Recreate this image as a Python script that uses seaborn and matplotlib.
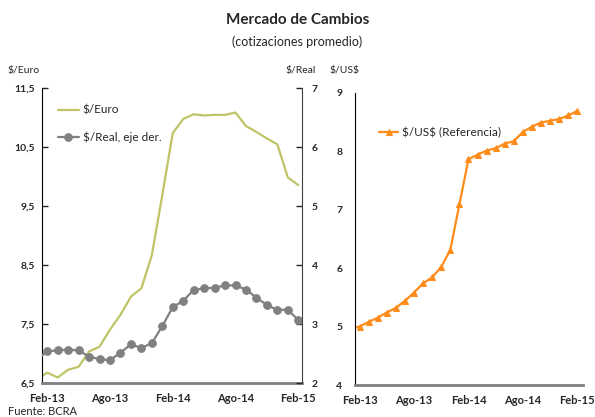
import numpy as np
import pandas as pd
import seaborn as sns
import matplotlib.pyplot as plt
from matplotlib.ticker import FixedLocator, FuncFormatter

sns.set_style("white")
plt.rcParams['font.family'] = ['Lato', 'DejaVu Sans']
plt.rcParams['text.parse_math'] = False  # keep the $ signs literal

# monthly averages, Jan-13 (partly clipped) to Feb-15
months = ["Ene-13", "Feb-13", "Mar-13", "Abr-13", "May-13", "Jun-13", "Jul-13", "Ago-13",
          "Sep-13", "Oct-13", "Nov-13", "Dic-13", "Ene-14", "Feb-14", "Mar-14", "Abr-14",
          "May-14", "Jun-14", "Jul-14", "Ago-14", "Sep-14", "Oct-14", "Nov-14", "Dic-14",
          "Ene-15", "Feb-15"]
euro = [6.56, 6.68, 6.60, 6.73, 6.78, 7.04, 7.12, 7.41, 7.66, 7.97, 8.11, 8.67, 9.69,
        10.74, 10.98, 11.06, 11.04, 11.05, 11.05, 11.09, 10.86, 10.76, 10.65, 10.55, 9.99, 9.86]
real = [2.40, 2.54, 2.56, 2.57, 2.56, 2.45, 2.41, 2.39, 2.52, 2.66, 2.60, 2.68, 2.97,
        3.29, 3.40, 3.58, 3.61, 3.62, 3.66, 3.66, 3.59, 3.45, 3.33, 3.24, 3.25, 3.07]
usd = [4.96, 5.00, 5.08, 5.15, 5.24, 5.32, 5.44, 5.58, 5.74, 5.84, 6.02, 6.31, 7.09,
       7.86, 7.94, 8.01, 8.05, 8.13, 8.17, 8.33, 8.42, 8.49, 8.52, 8.55, 8.61, 8.69]
xlabels = ["Feb-13", "Ago-13", "Feb-14", "Ago-14", "Feb-15"]

df = pd.DataFrame({"mes": months, "euro": euro, "real": real, "usd": usd})
df["t"] = np.arange(len(df)) - 1  # Feb-13 = 0

c_euro = "#bfc466"
c_real = "#808080"
c_usd = "#ff8c1a"

fig = plt.figure(figsize=(5.95, 4.17), dpi=100)

ax = fig.add_axes([0.0706, 0.0808, 0.437, 0.7074])
ax2 = ax.twinx()
axr = fig.add_axes([0.5966, 0.0767, 0.383, 0.701])

sns.lineplot(data=df, x="t", y="euro", ax=ax, color=c_euro, lw=1.6, label="$/Euro", legend=False)
sns.lineplot(data=df, x="t", y="real", ax=ax2, color=c_real, lw=1.6, marker="o", ms=5.5,
             markeredgecolor=c_real, label="$/Real, eje der.", legend=False)
sns.lineplot(data=df, x="t", y="usd", ax=axr, color=c_usd, lw=1.6, marker="^", ms=5,
             markeredgecolor=c_usd, label="$/US$ (Referencia)", legend=False)

ax.set_ylim(6.5, 11.5)
ax2.set_ylim(2, 7)
axr.set_ylim(4, 9)
ax.set_xlim(-0.5, 24.36)
axr.set_xlim(-0.5, 24.6)

comma = FuncFormatter(lambda v, p: ("%.1f" % v).replace(".", ","))
ax.yaxis.set_major_locator(FixedLocator([6.5, 7.5, 8.5, 9.5, 10.5, 11.5]))
ax.yaxis.set_major_formatter(comma)
ax2.yaxis.set_major_locator(FixedLocator([2, 3, 4, 5, 6, 7]))
axr.yaxis.set_major_locator(FixedLocator([4, 5, 6, 7, 8, 9]))

for a in (ax, ax2, axr):
    a.set_xlabel("")
    a.set_ylabel("")
    a.spines["top"].set_visible(False)
    a.tick_params(axis="y", direction="in", length=4, width=1, labelsize=7.5, pad=5)
    for lab in a.get_yticklabels():
        lab.set_fontweight("bold")

for a in (ax, axr):
    a.set_xticks([-0.5, 5.5, 11.5, 17.5, 23.5])
    a.set_xticklabels([])
    a.set_xticks([0, 6, 12, 18, 24], minor=True)
    a.set_xticklabels(xlabels, minor=True, fontweight="bold", fontsize=8)
    a.tick_params(axis="x", which="major", direction="in", length=4, width=1, color="#606060")
    a.tick_params(axis="x", which="minor", length=0, pad=7)
    a.spines["bottom"].set_color("#808080")
    a.spines["bottom"].set_linewidth(2)
    a.spines["left"].set_color("black")
    a.spines["right"].set_visible(False)

ax2.spines["left"].set_visible(False)
ax2.spines["bottom"].set_visible(False)
ax2.spines["right"].set_color("#404040")
ax2.tick_params(axis="y", pad=7)
axr.tick_params(axis="y", pad=9)

h1, l1 = ax.get_legend_handles_labels()
h2, l2 = ax2.get_legend_handles_labels()
ax.legend(h1 + h2, l1 + l2, loc="upper left", bbox_to_anchor=(0.02, 0.98), frameon=False,
          fontsize=8.5, handlelength=1.8, handletextpad=0.3, labelspacing=1.3)
axr.legend(loc="upper left", bbox_to_anchor=(0.06, 0.92), frameon=False,
           fontsize=8.5, handlelength=1.6, handletextpad=0.3)

fig.text(0.5, 0.952, "Mercado de Cambios", ha="center", va="center", fontsize=11, fontweight="bold")
fig.text(0.5, 0.9, "(cotizaciones promedio)", ha="center", va="center", fontsize=9)
fig.text(0.013, 0.832, "$/Euro", ha="left", va="center", fontsize=7.5)
fig.text(0.48, 0.832, "$/Real", ha="left", va="center", fontsize=7.5)
fig.text(0.553, 0.832, "$/US$", ha="left", va="center", fontsize=7.5)
fig.text(0.013, 0.0, "Fuente: BCRA", ha="left", va="bottom", fontsize=8)

fig.savefig("out.png", dpi=100)
